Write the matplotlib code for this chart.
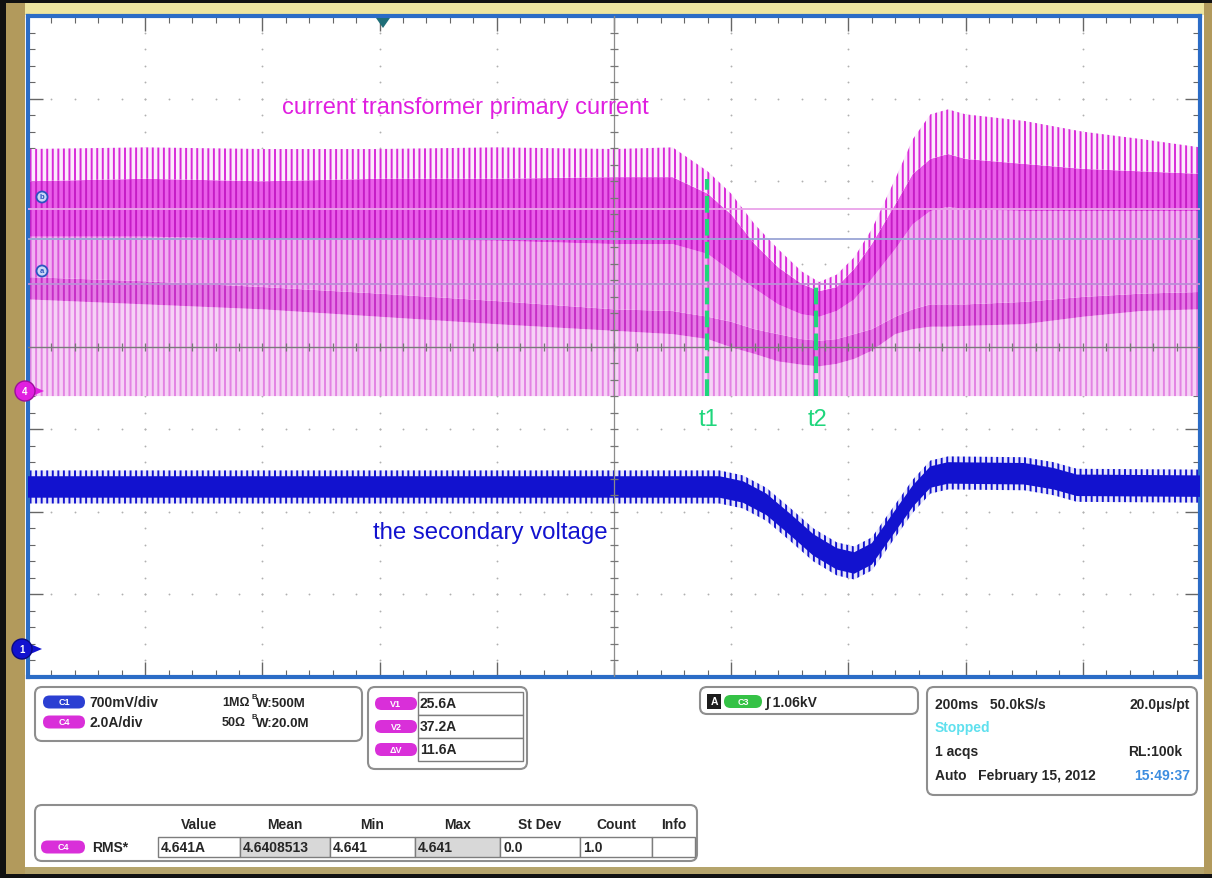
import numpy as np
import matplotlib.pyplot as plt
from matplotlib.patches import Rectangle, FancyBboxPatch, Circle, Polygon

plt.rcParams['font.family'] = ['Liberation Sans', 'DejaVu Sans']
plt.rcParams['hatch.linewidth'] = 1.4

# ---------- traces, in graticule divisions (10 x 8) ----------
# channel 4 : current transformer primary current (pulse train envelopes)
c4_x = [0, 1, 2, 3, 4, 5, 5.5, 5.8, 6.0, 6.2, 6.4, 6.6, 6.75, 6.9, 7.05, 7.2,
        7.4, 7.55, 7.7, 7.85, 8.0, 8.5, 9.0, 9.5, 10]
c4_peak = [6.39, 6.41, 6.39, 6.39, 6.41, 6.39, 6.41, 6.12, 5.85, 5.48, 5.18, 4.91, 4.78,
           4.87, 5.08, 5.42, 6.03, 6.51, 6.81, 6.87, 6.81, 6.73, 6.60, 6.51, 6.41]
c4_dense_top = [6.00, 6.03, 6.00, 6.03, 6.03, 6.05, 6.05, 5.85, 5.60, 5.24, 4.96, 4.76, 4.67,
                4.72, 4.94, 5.24, 5.72, 6.09, 6.27, 6.33, 6.27, 6.21, 6.15, 6.12, 6.09]
c4_dense_bot = [5.33, 5.33, 5.30, 5.30, 5.28, 5.24, 5.24, 5.12, 4.91, 4.70, 4.51, 4.39, 4.36,
                4.43, 4.57, 4.82, 5.18, 5.48, 5.64, 5.69, 5.66, 5.64, 5.64, 5.64, 5.64]
c4_low_top = [4.84, 4.79, 4.72, 4.64, 4.55, 4.45, 4.43, 4.36, 4.30, 4.21, 4.15, 4.09, 4.07,
              4.09, 4.15, 4.21, 4.36, 4.45, 4.51, 4.51, 4.51, 4.54, 4.60, 4.64, 4.66]
c4_low_bot = [4.57, 4.51, 4.45, 4.36, 4.27, 4.19, 4.15, 4.09, 3.99, 3.91, 3.82, 3.78, 3.76,
              3.79, 3.85, 3.95, 4.15, 4.21, 4.24, 4.24, 4.25, 4.27, 4.36, 4.43, 4.45]
c4_base = 3.40

# channel 1 : the secondary voltage
c1_x = [0, 5.9, 6.1, 6.3, 6.5, 6.7, 6.9, 7.05, 7.2, 7.4, 7.55, 7.7, 7.85, 8.5, 8.75, 8.95, 10]
c1_mid = [2.30, 2.30, 2.24, 2.09, 1.85, 1.60, 1.43, 1.38, 1.49, 1.89, 2.19, 2.42, 2.47,
          2.46, 2.40, 2.32, 2.31]
c1_ripple = 0.20
c1_core = 0.13

# cursors
cursor_levels = [5.66, 5.30, 4.76]
t_pos = [5.79, 6.72]
t_top = [6.03, 4.76]
t_names = ['t1', 't2']

# readouts
ch_rows = [('C1', '700mV/div', '1MΩ', 'W:500M'), ('C4', '2.0A/div', '50Ω', 'W:20.0M')]
cur_names = ['V1', 'V2', 'ΔV']
cur_values = ['25.6A', '37.2A', '11.6A']
meas_heads = ['Value', 'Mean', 'Min', 'Max', 'St Dev', 'Count', 'Info']
meas_values = ['4.641A', '4.6408513', '4.641', '4.641', '0.0', '1.0', '']

MAG = '#e01fe0'
BLUE = '#1212cf'

fig = plt.figure(figsize=(12.12, 8.79), dpi=100)
fig.patch.set_facecolor('white')

# background chrome in pixel coords
bg = fig.add_axes([0, 0, 1, 1], zorder=0)
bg.set_xlim(0, 1212)
bg.set_ylim(879, 0)
bg.axis('off')
bg.add_patch(Rectangle((0, 0), 1212, 879, fc='white', ec='none'))
bg.add_patch(Rectangle((0, 0), 6, 879, fc='#111111', ec='none'))
bg.add_patch(Rectangle((0, 0), 1212, 4, fc='#111111', ec='none'))
bg.add_patch(Rectangle((0, 875), 1212, 4, fc='#111111', ec='none'))
bg.add_patch(Rectangle((6, 4), 19, 871, fc='#b29a5c', ec='none'))
bg.add_patch(Rectangle((1204, 4), 8, 871, fc='#b29a5c', ec='none'))
bg.add_patch(Rectangle((25, 4), 1179, 12, fc='#eee59f', ec='none'))
bg.add_patch(Rectangle((25, 868), 1179, 7, fc='#b5a46c', ec='none'))

# graticule
L, R, T, B = 28, 1200, 17, 678
ax = fig.add_axes([L / 1212, (879 - B) / 879, (R - L) / 1212, (B - T) / 879], zorder=1)
ax.set_xlim(0, 10)
ax.set_ylim(0, 8)
ax.set_facecolor('white')
for s in ax.spines.values():
    s.set_color('#2b6cc6')
    s.set_linewidth(3)
ax.set_xticks(np.arange(0, 11, 1))
ax.set_yticks(np.arange(0, 9, 1))
ax.set_xticks(np.arange(0, 10.01, 0.2), minor=True)
ax.set_yticks(np.arange(0, 8.01, 0.2), minor=True)
ax.tick_params(which='both', direction='in', top=True, right=True, bottom=True, left=True,
               labelbottom=False, labelleft=False, color='#666666')
ax.tick_params(which='major', length=11, width=1)
ax.tick_params(which='minor', length=5, width=0.8)

# grid dots
for gx in [1, 2, 3, 4, 6, 7, 8, 9]:
    ys = np.arange(0.2, 8, 0.2)
    ax.scatter(np.full(len(ys), gx), ys, s=1.8, color='#b0b0b0', zorder=1, lw=0)
for gy in [1, 2, 3, 5, 6, 7]:
    xs = np.arange(0.2, 10, 0.2)
    ax.scatter(xs, np.full(len(xs), gy), s=1.8, color='#b0b0b0', zorder=1, lw=0)

# channel 4 pulse train
ax.fill_between(c4_x, c4_base, c4_low_bot, fc='#f6d2f6', ec='#e383e3', hatch='|||', lw=0, zorder=2)
ax.fill_between(c4_x, c4_low_bot, c4_low_top, fc='#e57be5', ec='#c72ec7', hatch='|||', lw=0, zorder=2)
ax.fill_between(c4_x, c4_low_top, c4_dense_bot, fc='#f1b0f1', ec='#da55da', hatch='|||', lw=0, zorder=2)
ax.fill_between(c4_x, c4_dense_bot, c4_dense_top, fc='#e95ee9', ec='#c61cc6', hatch='|||', lw=0, zorder=2)
ax.fill_between(c4_x, c4_dense_top, c4_peak, fc='#fcecfc', ec='#d92ad9', hatch='|||', lw=0, zorder=2)

# channel 1
c1_mid = np.array(c1_mid)
ax.fill_between(c1_x, c1_mid - c1_ripple, c1_mid + c1_ripple, fc='#e6e6fb', ec=BLUE,
                hatch='|||', lw=0, zorder=2.5)
ax.fill_between(c1_x, c1_mid - c1_core, c1_mid + c1_core, fc=BLUE, ec='none', zorder=2.6)

# center lines with ticks
ax.axvline(5, color='#8c8c8c', lw=0.9, zorder=3)
ax.axhline(4, color='#7a7a7a', lw=1.0, zorder=3)
cy = np.arange(0.2, 8, 0.2)
cx = np.arange(0.2, 10, 0.2)
ax.plot(np.full(len(cy), 5), cy, ls='none', marker='_', ms=6, mew=0.9, color='#777777', zorder=3)
ax.plot(cx, np.full(len(cx), 4), ls='none', marker='|', ms=6, mew=0.9, color='#777777', zorder=3)

# cursor lines
for lv, c in zip(cursor_levels, ['#e9a3e9', '#9aa5d6', '#bb8fd6']):
    ax.axhline(lv, color=c, lw=1.3, zorder=3.2)

# time cursors
for tx, tt, nm in zip(t_pos, t_top, t_names):
    ax.plot([tx, tx], [c4_base, tt], color='#1fd67c', lw=3, ls=(0, (4, 1.5)), zorder=4)
    ax.text(tx + 0.02, 3.12, nm, color='#1fd67c', fontsize=17, ha='center', va='center', zorder=4)

ax.text(2.17, 6.9, 'current transformer primary current', color=MAG, fontsize=17,
        ha='left', va='center', zorder=4)
ax.text(2.94, 1.75, 'the secondary voltage', color=BLUE, fontsize=17.3,
        ha='left', va='center', zorder=4)

# foreground overlay (markers, readouts)
fg = fig.add_axes([0, 0, 1, 1], zorder=5)
fg.set_xlim(0, 1212)
fg.set_ylim(879, 0)
fg.axis('off')
fg.patch.set_alpha(0)

# trigger position marker
fg.add_patch(Polygon([[376, 19], [390, 19], [383, 29]], closed=True, fc='#1f6e78', ec='none'))

# ground markers
fg.add_patch(Polygon([[30, 386], [44, 392], [30, 398]], closed=True, fc=MAG, ec='none'))
fg.add_patch(Circle((25, 392), 10, fc=MAG, ec='#9b109b', lw=1))
fg.text(25, 392, '4', color='white', fontsize=7, ha='center', va='center', weight='bold')
fg.add_patch(Polygon([[28, 644], [42, 650], [28, 656]], closed=True, fc=BLUE, ec='none'))
fg.add_patch(Circle((22, 650), 10, fc=BLUE, ec='#0a0a80', lw=1))
fg.text(22, 650, '1', color='white', fontsize=7, ha='center', va='center', weight='bold')

# cursor letter markers
for (mx, my), lt in zip([(42, 198), (42, 272)], ['b', 'a']):
    fg.add_patch(Circle((mx, my), 5.5, fc='#c9d7f7', ec='#2a55c0', lw=1.3))
    fg.text(mx, my, lt, color='#2a55c0', fontsize=5.5, ha='center', va='center', weight='bold')

TXT = '#262626'
FS = 10


def box(x0, y0, x1, y1):
    fg.add_patch(FancyBboxPatch((x0, y0), x1 - x0, y1 - y0,
                                boxstyle='round,pad=0,rounding_size=7',
                                fc='white', ec='#8e8e8e', lw=1.5))


def pill(x, y, w, label, color, h=13):
    fg.add_patch(FancyBboxPatch((x, y - h / 2), w, h,
                                boxstyle='round,pad=0,rounding_size=%g' % (h / 2),
                                fc=color, ec='none'))
    fg.text(x + w / 2, y, label, color='white', fontsize=6.5, ha='center', va='center',
            weight='bold')


def txt(x, y, s, color=TXT, ha='left', fs=FS):
    fg.text(x, y, s, color=color, fontsize=fs, ha=ha, va='center', weight='bold')


# channel settings
box(35, 688, 362, 742)
for i, (nm, scale, imp, bw) in enumerate(ch_rows):
    y = 703 + 20 * i
    pill(43, y, 42, nm, '#2b3fd2' if nm == 'C1' else '#d92fd9')
    txt(89, y, scale)
    txt(222, y, imp, fs=9)
    txt(252, y - 5, 'B', fs=5.5)
    txt(256, y + 1, bw, fs=9.5)

# cursor readout
box(368, 688, 527, 770)
for i, (nm, val) in enumerate(zip(cur_names, cur_values)):
    y0 = 693 + 23 * i
    fg.add_patch(Rectangle((418, y0), 105, 23, fc='white', ec='#7d7d7d', lw=1))
    pill(375, y0 + 11.5, 42, nm, '#d92fd9')
    txt(420, y0 + 11.5, val)

# trigger readout
box(700, 688, 918, 715)
fg.add_patch(Rectangle((707, 695), 14, 15, fc='#1c1c1c', ec='none'))
fg.text(714, 702.5, 'A', color='white', fontsize=7.5, ha='center', va='center', weight='bold')
pill(724, 702.5, 38, 'C3', '#35c246')
txt(766, 702.5, '∫ 1.06kV')

# timebase readout
box(927, 688, 1197, 796)
txt(935, 705, '200ms   50.0kS/s')
txt(1190, 705, '20.0μs/pt', ha='right')
txt(935, 728, 'Stopped', color='#5fe0ee')
txt(935, 752, '1 acqs')
txt(1182, 752, 'RL:100k', ha='right')
txt(935, 776, 'Auto   February 15, 2012')
txt(1190, 776, '15:49:37', color='#3d8de0', ha='right')

# measurement table
box(35, 806, 697, 862)
cells = [158, 240, 330, 415, 500, 580, 652, 695]
shade = [False, True, False, True, False, False, False]
for i, h in enumerate(meas_heads):
    cxm = (cells[i] + cells[i + 1]) / 2
    txt(cxm, 825, h, ha='center')
    fg.add_patch(Rectangle((cells[i], 838), cells[i + 1] - cells[i], 20,
                           fc='#d8d8d8' if shade[i] else 'white', ec='#7d7d7d', lw=1))
    txt(cells[i] + 3, 848, meas_values[i])
pill(41, 848, 44, 'C4', '#d92fd9')
txt(92, 848, 'RMS*')

fig.savefig('out.png', dpi=100)
